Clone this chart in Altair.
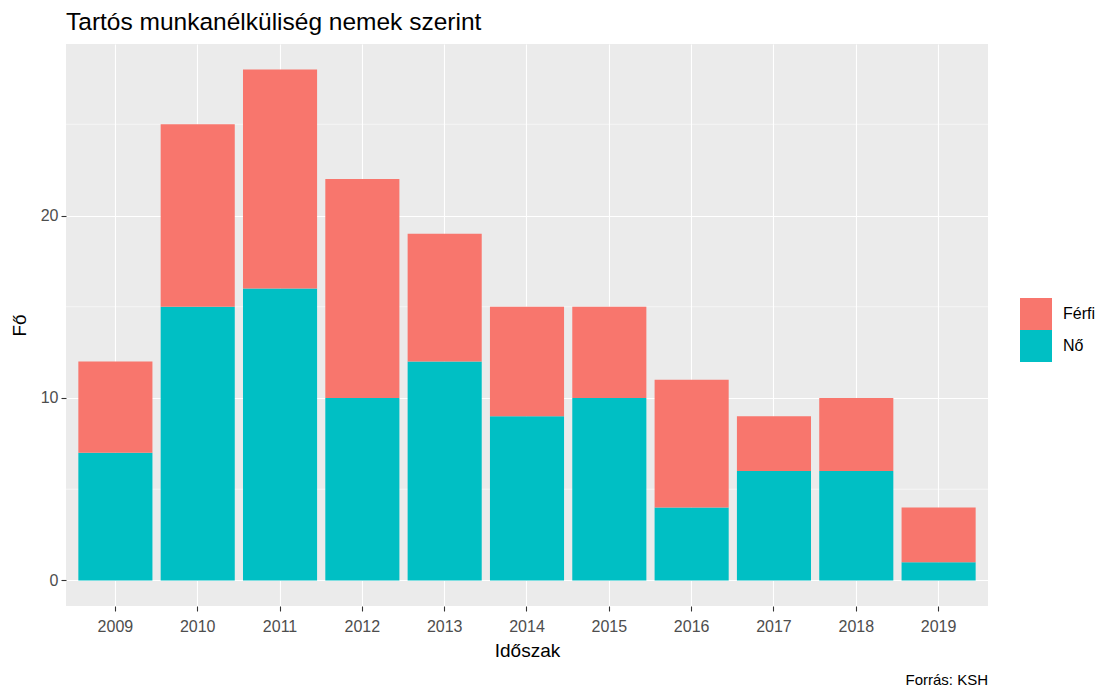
import altair as alt
import pandas as pd

years = ["2009", "2010", "2011", "2012", "2013", "2014", "2015", "2016", "2017", "2018", "2019"]
no_vals = [7, 15, 16, 10, 12, 9, 10, 4, 6, 6, 1]
ferfi_vals = [5, 10, 12, 12, 7, 6, 5, 7, 3, 4, 3]
groups = ["Férfi", "Nő"]
colors = ["#F8766D", "#00BFC4"]
major_ticks = [0, 10, 20]
minor_grid = [5, 15, 25]
caption = "Forrás: KSH"

rows = []
for y, n, f in zip(years, no_vals, ferfi_vals):
    rows.append({"Időszak": y, "Nem": "Nő", "Fő": n, "ord": 0})
    rows.append({"Időszak": y, "Nem": "Férfi", "Fő": f, "ord": 1})
df = pd.DataFrame(rows)

FONT = "Liberation Sans"
W, H = 922, 562

yscale = alt.Scale(domain=[-1.4, 29.4], nice=False, zero=False)
y_axis = alt.Axis(
    title="Fő", values=major_ticks, grid=True, gridColor="white", gridWidth=1.1,
    domain=False, tickColor="#333333", tickWidth=1.1, tickSize=5,
    labelColor="#4D4D4D", labelFontSize=16, labelPadding=3, labelFont=FONT,
    titleFont=FONT, titleFontSize=19, titleFontWeight="normal", titleColor="black",
    titlePadding=11,
)

minor = alt.Chart(pd.DataFrame({"v": minor_grid})).mark_rule(
    color="white", strokeWidth=0.55
).encode(y=alt.Y("v:Q", scale=yscale, axis=y_axis, title="Fő"))

bars = alt.Chart(df).mark_bar().encode(
    x=alt.X(
        "Időszak:N",
        sort=years,
        scale=alt.Scale(paddingInner=0.1, paddingOuter=0.15),
        axis=alt.Axis(
            title="Időszak", labelAngle=0, grid=True, gridColor="white", gridWidth=1.1,
            bandPosition=0.5, domain=False, tickColor="#333333", tickWidth=1.1, tickSize=5,
            labelColor="#4D4D4D", labelFontSize=16, labelPadding=7, labelFont=FONT,
            titleFont=FONT, titleFontSize=19, titleFontWeight="normal", titleColor="black",
            titlePadding=7,
        ),
    ),
    y=alt.Y("Fő:Q", stack="zero", scale=yscale, axis=y_axis, title="Fő"),
    color=alt.Color(
        "Nem:N",
        scale=alt.Scale(domain=groups, range=colors),
        legend=alt.Legend(
            title=None, orient="none", legendX=954, legendY=254, symbolType="square",
            symbolSize=1024, symbolStrokeWidth=0, symbolOpacity=1, labelFontSize=16,
            labelFont=FONT, labelColor="black", labelOffset=11, rowPadding=0, padding=0,
        ),
    ),
    order=alt.Order("ord:Q", sort="ascending"),
)

cap = alt.Chart(pd.DataFrame({"t": [caption]})).mark_text(
    align="right", baseline="middle", fontSize=15, font=FONT, color="black"
).encode(x=alt.value(W), y=alt.value(636), text="t:N")

chart = alt.layer(minor, bars, cap).properties(
    width=W,
    height=H,
    title=alt.Title(
        "Tartós munkanélküliség nemek szerint", anchor="start", frame="group",
        fontSize=24.5, fontWeight="normal", font=FONT, color="black", offset=9,
    ),
    padding={"left": 58, "top": 36, "right": 108, "bottom": 90},
    autosize=alt.AutoSizeParams(type="none"),
    background="white",
).configure_view(fill="#EBEBEB", strokeWidth=0)

chart.save("out.html", embed_options={"renderer": "svg", "actions": False})
